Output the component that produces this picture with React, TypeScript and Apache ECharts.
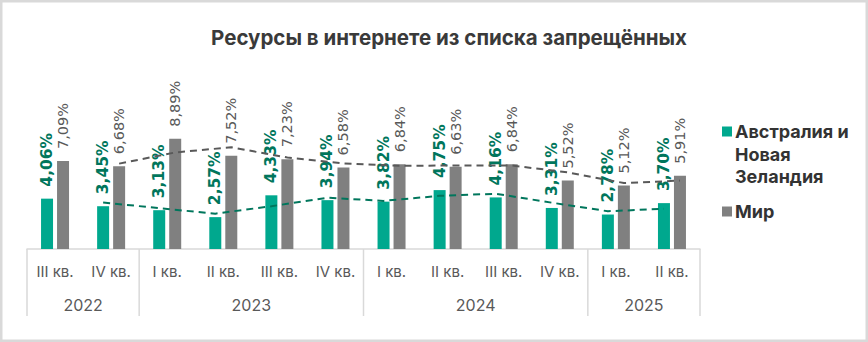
import React, { useEffect, useRef } from "react";
import * as echarts from "echarts";

const quarters = ["III кв.", "IV кв.", "I кв.", "II кв.", "III кв.", "IV кв.", "I кв.", "II кв.", "III кв.", "IV кв.", "I кв.", "II кв."];
const yearLabels = ["2022", "2023", "2024", "2025"];
const yearSpans = [2, 4, 4, 2];
const anzValues = [4.06, 3.45, 3.13, 2.57, 4.33, 3.94, 3.82, 4.75, 4.16, 3.31, 2.78, 3.7];
const worldValues = [7.09, 6.68, 8.89, 7.52, 7.23, 6.58, 6.84, 6.63, 6.84, 5.52, 5.12, 5.91];
const seriesNames = ["Австралия и Новая Зеландия", "Мир"];
const legendLines = [["Австралия и", "Новая", "Зеландия"], ["Мир"]];
const title = "Ресурсы в интернете из списка запрещённых";

const W = 868;
const H = 342;
const GRID = { left: 27, right: 168, top: 125, bottom: 93 };
const BAR_W = 12;
const BAR_GAP = 4;
const GREEN = "#00a88e";
const GREEN_DARK = "#00765c";
const GRAY = "#808080";
const GRAY_DARK = "#595959";
const FONT = "Inter, 'DejaVu Sans', sans-serif";
const LABEL_FONT = "'DejaVu Sans', sans-serif";

// Excel-style 2-period moving-average trendline, derived from the bars
function movingAverage(arr: number[]): (number | null)[] {
  return arr.map((v, i) => (i === 0 ? null : (arr[i - 1] + v) / 2));
}

const fmt = (v: number) => v.toFixed(2).replace(".", ",") + "%";

export default function App() {
  const ref = useRef<HTMLDivElement>(null);
  useEffect(() => {
    if (!ref.current) return;
    const chart = echarts.init(ref.current, undefined, { renderer: "svg", width: W, height: H });
    const band = (W - GRID.left - GRID.right) / quarters.length;
    const off = (BAR_W + BAR_GAP) / 2 / band;
    const trendData = (arr: number[], shift: number) =>
      movingAverage(arr).map((v, i) => [i + shift, v]).filter((p) => p[1] !== null);

    chart.setOption({
      animation: false,
      grid: { ...GRID },
      xAxis: [
        {
          type: "category",
          data: quarters.map((_, i) => String(i)),
          axisLine: { show: true, lineStyle: { color: "#d9d9d9", width: 1.5 } },
          axisTick: { show: false },
          axisLabel: {
            margin: 15,
            fontSize: 15,
            color: GRAY_DARK,
            fontFamily: FONT,
            interval: 0,
            formatter: (v: string) => quarters[Number(v)],
          },
        },
        { type: "value", min: -0.5, max: quarters.length - 0.5, show: false },
      ],
      yAxis: { type: "value", min: 0, max: 10, show: false },
      series: [
        {
          name: seriesNames[0],
          type: "bar",
          data: anzValues,
          barWidth: BAR_W,
          barGap: (BAR_GAP / BAR_W) * 100 + "%",
          itemStyle: { color: GREEN },
          label: {
            show: true,
            position: "top",
            rotate: 90,
            align: "left",
            verticalAlign: "middle",
            distance: 12,
            color: GREEN_DARK,
            fontSize: 15.5,
            fontWeight: "bold",
            fontFamily: LABEL_FONT,
            formatter: (p: any) => fmt(p.value),
          },
        },
        {
          name: seriesNames[1],
          type: "bar",
          data: worldValues,
          barWidth: BAR_W,
          itemStyle: { color: GRAY },
          label: {
            show: true,
            position: "top",
            rotate: 90,
            align: "left",
            verticalAlign: "middle",
            distance: 12,
            color: GRAY_DARK,
            fontSize: 14.5,
            fontFamily: LABEL_FONT,
            formatter: (p: any) => fmt(p.value),
          },
        },
        {
          type: "line",
          xAxisIndex: 1,
          data: trendData(anzValues, -off),
          symbol: "none",
          lineStyle: { color: GREEN_DARK, width: 2, type: [7, 5] },
          z: 5,
        },
        {
          type: "line",
          xAxisIndex: 1,
          data: trendData(worldValues, off),
          symbol: "none",
          lineStyle: { color: GRAY_DARK, width: 2, type: [7, 5] },
          z: 5,
        },
      ],
    });

    const cx = (i: number) => chart.convertToPixel({ xAxisIndex: 0 }, String(i)) as number;
    const bw = cx(1) - cx(0);
    const base = chart.convertToPixel({ yAxisIndex: 0 }, 0) as number;
    const sepBottom = 316;
    const graphics: any[] = [
      {
        type: "rect",
        shape: { x: 1.25, y: 1.25, width: W - 2.5, height: H - 2.5 },
        style: { fill: "none", stroke: "#d9d9d9", lineWidth: 2.5 },
        silent: true,
      },
      {
        type: "text",
        x: 449,
        y: 37,
        style: {
          text: title,
          fontSize: 20.5,
          fontWeight: "bold",
          fontFamily: FONT,
          fill: "#3a3a3a",
          align: "center",
          verticalAlign: "middle",
        },
      },
    ];
    let start = 0;
    const bounds: number[] = [cx(0) - bw / 2];
    yearSpans.forEach((span, k) => {
      const left = cx(start) - bw / 2;
      const right = cx(start + span - 1) + bw / 2;
      bounds.push(right);
      graphics.push({
        type: "text",
        x: (left + right) / 2,
        y: 305,
        style: {
          text: yearLabels[k],
          fontSize: 16,
          fontFamily: FONT,
          fill: GRAY_DARK,
          align: "center",
          verticalAlign: "middle",
        },
      });
      start += span;
    });
    bounds.forEach((x) => {
      graphics.push({
        type: "line",
        shape: { x1: x, y1: base, x2: x, y2: sepBottom },
        style: { stroke: "#d9d9d9", lineWidth: 1.5 },
      });
    });
    // legend
    const legendX = 722;
    const legendColors = [GREEN, GRAY];
    const legendTop = [131.5, 211.5];
    legendLines.forEach((lines, k) => {
      graphics.push({
        type: "rect",
        shape: { x: legendX, y: legendTop[k] - 5, width: 10, height: 10 },
        style: { fill: legendColors[k] },
      });
      lines.forEach((t, j) => {
        graphics.push({
          type: "text",
          x: legendX + 13,
          y: legendTop[k] + j * 22.5,
          style: {
            text: t,
            fontSize: 18,
            fontWeight: "bold",
            fontFamily: FONT,
            fill: "#333333",
            align: "left",
            verticalAlign: "middle",
          },
        });
      });
    });
    chart.setOption({ graphic: graphics });
    return () => chart.dispose();
  }, []);
  return <div ref={ref} style={{ position: "fixed", left: 0, top: 0, width: W, height: H, background: "#fff" }} />;
}
